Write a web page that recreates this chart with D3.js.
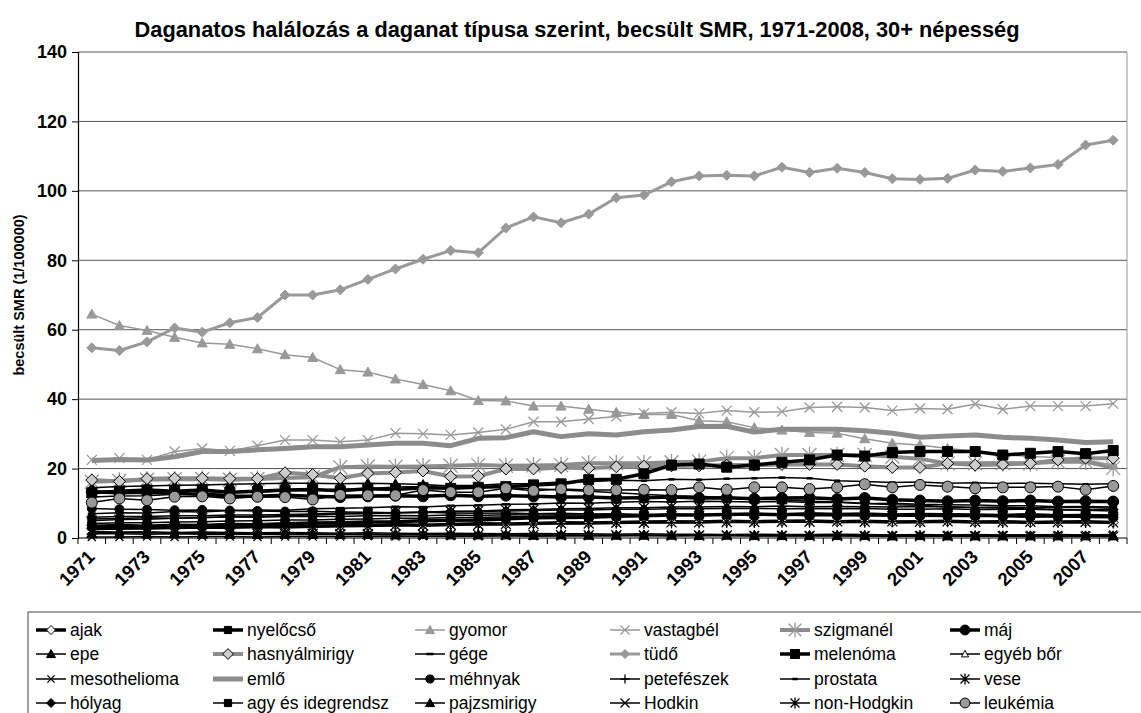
<!DOCTYPE html>
<html><head><meta charset="utf-8">
<script src="https://cdn.jsdelivr.net/npm/d3@7"></script>
<style>
body{margin:0;background:#fff}
text{font-family:"Liberation Sans",Arial,sans-serif}
</style>
</head><body>
<svg id="c" width="1141" height="713"></svg>
<script>
const years = [1971,1972,1973,1974,1975,1976,1977,1978,1979,1980,1981,1982,1983,1984,1985,1986,1987,1988,1989,1990,1991,1992,1993,1994,1995,1996,1997,1998,1999,2000,2001,2002,2003,2004,2005,2006,2007,2008];
const yTicks = [0,20,40,60,80,100,120,140];
const xLabelYears = [1971,1973,1975,1977,1979,1981,1983,1985,1987,1989,1991,1993,1995,1997,1999,2001,2003,2005,2007];

const ajak = [2.8,2.9,3.1,3.0,3.2,3.1,3.3,3.2,3.4,3.5,3.6,3.8,3.7,3.9,4.1,4.0,4.2,4.4,4.3,4.5,4.6,4.7,4.6,4.8,4.7,4.8,4.9,4.7,4.8,4.6,4.7,4.8,4.6,4.7,4.5,4.6,4.7,4.5];
const nyelocso = [3.4,3.6,3.4,3.7,3.6,3.9,3.8,4.1,4.3,4.4,4.6,4.7,5.0,5.1,5.2,5.5,5.8,5.9,6.0,6.3,6.4,6.6,6.6,6.8,6.9,6.7,7.0,6.8,6.9,6.6,6.8,6.7,6.6,6.5,6.7,6.4,6.5,6.3];
const gyomor = [64.5,61.2,59.8,57.8,56.2,55.8,54.5,52.8,52.0,48.5,47.8,45.8,44.2,42.4,39.6,39.5,38.0,38.0,37.1,36.2,35.6,35.6,33.8,33.5,31.8,31.1,30.4,30.2,28.6,27.3,26.8,25.8,25.0,24.0,23.5,23.2,22.5,21.0];
const vastagbel = [22.5,23.0,22.5,24.9,25.8,25.1,26.6,28.2,28.2,27.7,28.2,30.2,30.0,29.7,30.4,31.3,33.5,33.5,34.3,35.0,35.9,36.2,35.9,36.7,36.2,36.4,37.6,37.8,37.6,36.7,37.3,37.1,38.6,37.1,38.0,38.0,38.0,38.7];
const szigmanel = [16.2,16.5,16.8,16.9,17.0,16.8,17.0,17.3,17.5,20.4,20.6,20.5,20.6,20.8,21.0,20.8,20.9,21.0,21.5,21.5,21.5,21.8,22.0,23.0,23.0,23.9,23.9,23.9,23.9,23.4,22.8,21.5,21.5,21.6,21.5,22.0,22.0,20.2];
const maj = [13.3,13.0,13.2,12.8,12.6,12.0,12.0,12.3,12.0,11.8,12.0,12.2,12.0,12.3,12.0,12.2,12.0,11.8,11.8,11.5,11.6,11.8,11.5,11.6,11.3,11.5,11.6,11.2,11.5,11.0,10.8,10.6,10.8,10.6,10.8,10.5,10.6,10.5];
const epe = [14.5,14.8,15.0,15.2,15.3,15.5,15.6,15.8,15.8,15.6,15.8,15.6,15.4,15.0,14.8,14.5,14.2,13.8,13.5,13.0,12.6,12.2,12.0,11.6,11.2,11.0,10.6,10.4,10.0,9.6,9.4,9.0,8.8,8.6,8.4,8.2,8.0,7.8];
const hasnyalmirigy = [16.7,16.3,17.1,17.2,17.2,17.1,17.1,18.8,18.3,17.2,18.6,18.9,19.3,17.7,17.8,19.9,19.9,20.3,20.1,20.5,20.7,20.8,20.8,21.0,21.0,21.2,21.2,21.2,20.7,20.3,20.3,21.5,21.0,21.2,21.5,22.5,23.0,23.0];
const gege = [7.0,7.3,7.2,7.6,7.5,7.9,8.1,8.0,8.4,8.6,8.7,9.0,8.9,9.3,9.4,9.7,9.8,10.1,10.0,10.3,10.5,10.4,10.6,10.5,10.4,10.5,10.2,10.3,9.9,10.0,9.7,9.6,9.5,9.3,9.3,9.0,9.1,8.9];
const tudo = [54.8,54.0,56.5,60.5,59.3,62.0,63.5,70.0,70.0,71.5,74.5,77.5,80.3,82.8,82.2,89.3,92.5,90.8,93.3,98.0,98.8,102.6,104.3,104.5,104.3,106.8,105.3,106.5,105.3,103.5,103.3,103.6,106.0,105.6,106.6,107.6,113.2,114.6];
const melenoma = [13.0,13.5,13.8,13.5,13.8,13.2,13.5,13.8,14.0,13.6,14.2,14.0,14.5,14.3,14.6,14.8,15.3,15.6,16.8,16.9,18.5,21.0,21.3,20.4,21.0,21.8,22.5,23.9,23.6,24.6,24.9,24.9,24.9,23.9,24.4,24.9,24.3,25.2];
const egyebBor = [1.8,1.7,1.8,1.6,1.7,1.6,1.5,1.6,1.5,1.4,1.5,1.4,1.3,1.4,1.3,1.2,1.3,1.2,1.2,1.1,1.2,1.1,1.1,1.0,1.1,1.0,1.0,1.1,1.0,0.9,1.0,0.9,1.0,0.9,0.9,1.0,0.9,0.9];
const mesothelioma = [0.3,0.3,0.4,0.3,0.4,0.4,0.3,0.4,0.4,0.4,0.5,0.4,0.5,0.5,0.5,0.6,0.5,0.6,0.6,0.6,0.7,0.6,0.7,0.7,0.7,0.8,0.7,0.8,0.8,0.8,0.8,0.9,0.8,0.9,0.9,0.9,0.9,1.0];
const emlo = [22.3,22.6,22.5,23.4,24.9,24.9,25.4,25.8,26.3,26.3,26.8,27.3,27.3,26.6,28.7,28.9,30.6,29.2,30.0,29.7,30.6,31.1,32.1,32.2,30.5,31.3,31.3,31.3,30.9,30.2,29.0,29.4,29.7,29.0,28.7,28.2,27.5,27.7];
const mehnyak = [8.5,8.3,8.2,8.0,8.1,7.9,7.8,7.6,7.7,7.5,7.4,7.3,7.4,7.2,7.1,7.2,7.0,7.1,6.9,7.0,6.8,6.9,6.7,6.8,6.6,6.7,6.5,6.6,6.4,6.5,6.3,6.2,6.3,6.1,6.0,6.1,5.9,5.8];
const petefeszek = [5.5,5.6,5.8,5.7,5.9,6.1,6.0,6.2,6.3,6.2,6.4,6.5,6.4,6.6,6.5,6.7,6.6,6.7,6.6,6.8,6.6,6.7,6.5,6.6,6.5,6.6,6.4,6.5,6.4,6.4,6.3,6.4,6.3,6.3,6.2,6.3,6.2,6.2];
const prostata = [11.8,12.1,12.2,12.6,12.8,13.1,13.2,13.6,13.7,14.1,14.2,14.7,14.8,15.1,15.2,15.6,15.7,16.1,16.2,16.6,16.5,16.9,16.8,17.1,17.2,17.4,17.2,16.5,16.3,16.0,16.1,15.8,15.9,15.7,15.8,15.6,15.5,15.6];
const vese = [5.0,5.3,5.4,5.7,5.8,6.1,6.2,6.5,6.6,6.9,7.0,7.3,7.4,7.7,7.8,8.1,8.2,8.4,8.5,8.7,8.7,8.9,8.9,9.1,9.0,9.2,9.0,9.1,9.0,8.9,9.1,8.9,8.8,8.9,8.7,8.8,8.8,8.6];
const holyag = [6.0,6.2,6.2,6.4,6.4,6.6,6.6,6.8,6.9,7.1,7.1,7.3,7.4,7.6,7.6,7.8,7.9,8.1,8.1,8.3,8.3,8.4,8.4,8.5,8.5,8.4,8.5,8.4,8.5,8.3,8.3,8.4,8.2,8.2,8.3,8.1,8.1,8.2];
const agy = [4.2,4.4,4.4,4.6,4.7,4.9,5.0,5.2,5.2,5.4,5.5,5.7,5.7,5.9,5.9,6.1,6.1,6.3,6.3,6.4,6.5,6.6,6.6,6.7,6.7,6.8,6.8,6.7,6.8,6.6,6.8,6.7,6.6,6.7,6.5,6.6,6.5,6.6];
const pajzsmirigy = [1.2,1.2,1.1,1.2,1.1,1.1,1.0,1.1,1.0,1.0,1.0,0.9,1.0,0.9,0.9,0.9,0.8,0.9,0.8,0.8,0.8,0.8,0.7,0.8,0.7,0.7,0.7,0.7,0.7,0.6,0.7,0.6,0.6,0.6,0.6,0.6,0.6,0.6];
const hodkin = [1.6,1.5,1.5,1.4,1.4,1.3,1.3,1.2,1.2,1.1,1.1,1.0,1.0,1.0,0.9,0.9,0.9,0.8,0.8,0.8,0.7,0.7,0.7,0.7,0.6,0.6,0.6,0.6,0.5,0.5,0.5,0.5,0.5,0.5,0.4,0.4,0.4,0.4];
const nonHodgkin = [2.4,2.6,2.6,2.8,2.8,3.0,3.0,3.2,3.2,3.4,3.4,3.6,3.6,3.8,3.8,4.0,4.0,4.2,4.2,4.4,4.4,4.5,4.5,4.6,4.6,4.7,4.7,4.8,4.7,4.8,4.7,4.8,4.7,4.6,4.7,4.6,4.6,4.5];
const leukemia = [10.2,11.4,10.9,11.9,12.0,11.4,11.9,11.8,11.1,12.4,12.3,12.3,13.8,13.2,13.2,14.3,13.6,14.1,13.8,13.8,13.9,13.8,14.6,13.9,14.6,14.6,14.1,14.6,15.5,14.6,15.3,14.8,14.3,14.6,14.6,14.8,13.9,15.0];

const seriesNames = ["ajak","nyelőcső","gyomor","vastagbél","szigmanél","máj","epe","hasnyálmirigy","gége","tüdő","melenóma","egyéb bőr","mesothelioma","emlő","méhnyak","petefészek","prostata","vese","hólyag","agy és idegrendsz","pajzsmirigy","Hodkin","non-Hodgkin","leukémia"];
const seriesValues = [ajak,nyelocso,gyomor,vastagbel,szigmanel,maj,epe,hasnyalmirigy,gege,tudo,melenoma,egyebBor,mesothelioma,emlo,mehnyak,petefeszek,prostata,vese,holyag,agy,pajzsmirigy,hodkin,nonHodgkin,leukemia];

const G1 = "#999999", G2 = "#8c8c8c";
const styles = [
  {c:"#000",w:3.5,m:"diamond",f:"#fff",s:"#000",r:5},
  {c:"#000",w:3.5,m:"square",f:"#000",s:"#000",r:4},
  {c:G1,w:1.5,m:"triangle",f:G1,s:G1,r:5},
  {c:G1,w:1.5,m:"x",f:"none",s:G1,r:5},
  {c:G2,w:4,m:"asterisk",f:"none",s:G1,r:7},
  {c:"#000",w:3.5,m:"circle",f:"#000",s:"#000",r:5.5},
  {c:"#000",w:1.5,m:"triangle",f:"#000",s:"#000",r:5},
  {c:G2,w:4,m:"diamond",f:"#ccc",s:"#000",r:6},
  {c:"#000",w:1.5,m:"dash",f:"none",s:"#000",r:4},
  {c:G1,w:3,m:"diamond",f:G1,s:G1,r:5},
  {c:"#000",w:3.5,m:"square",f:"#000",s:"#000",r:5},
  {c:"#000",w:1.5,m:"triangle",f:"#fff",s:"#000",r:4},
  {c:"#000",w:1.5,m:"x",f:"none",s:"#000",r:4},
  {c:G2,w:5,m:"none",f:"none",s:"none",r:0},
  {c:"#000",w:1.5,m:"circle",f:"#000",s:"#000",r:4.5},
  {c:"#000",w:1.5,m:"plus",f:"none",s:"#000",r:5},
  {c:"#000",w:1.5,m:"dash",f:"none",s:"#000",r:3},
  {c:"#000",w:1.5,m:"asterisk",f:"none",s:"#000",r:5},
  {c:"#000",w:1.5,m:"diamond",f:"#000",s:"#000",r:5},
  {c:"#000",w:1.5,m:"square",f:"#000",s:"#000",r:4},
  {c:"#000",w:1.5,m:"triangle",f:"#000",s:"#000",r:5},
  {c:"#000",w:1.5,m:"x",f:"none",s:"#000",r:5},
  {c:"#000",w:1.5,m:"asterisk",f:"none",s:"#000",r:5},
  {c:"#000",w:1.5,m:"circle",f:"#999",s:"#000",r:5.5}
];

function markerPath(m, r){
  switch(m){
    case "diamond": return `M0,${-r}L${r},0L0,${r}L${-r},0Z`;
    case "square": return `M${-r},${-r}H${r}V${r}H${-r}Z`;
    case "triangle": return `M0,${-r}L${r},${r*0.8}L${-r},${r*0.8}Z`;
    case "circle": return `M${-r},0A${r},${r} 0 1,0 ${r},0A${r},${r} 0 1,0 ${-r},0Z`;
    case "x": return `M${-r},${-r}L${r},${r}M${-r},${r}L${r},${-r}`;
    case "plus": return `M${-r},0H${r}M0,${-r}V${r}`;
    case "asterisk": return `M${-r},${-r}L${r},${r}M${-r},${r}L${r},${-r}M0,${-r*1.2}V${r*1.2}`;
    case "dash": return `M${-r},0H${r}`;
    default: return "";
  }
}

const svg = d3.select("#c");
const L=78, R=1127, T=52, B=538;
const x = d3.scaleBand().domain(years).range([L,R]);
const cx = d => x(d) + x.bandwidth()/2;
const y = d3.scaleLinear().domain([0,140]).range([B,T]);

svg.append("g").selectAll("line").data(yTicks.filter(t=>t>0)).join("line")
  .attr("x1",L).attr("x2",R).attr("y1",d=>y(d)).attr("y2",d=>y(d))
  .attr("stroke","#555").attr("stroke-width",1);
svg.append("line").attr("x1",R).attr("x2",R).attr("y1",T).attr("y2",B).attr("stroke","#999").attr("stroke-width",1);

const ya = svg.append("g").attr("transform",`translate(${L},0)`)
  .call(d3.axisLeft(y).tickValues(yTicks).tickSize(6).tickPadding(5));
ya.select(".domain").attr("stroke","#000").attr("stroke-width",1.2);
ya.selectAll(".tick line").attr("stroke","#000");
ya.selectAll("text").attr("font-size",18).attr("font-weight","bold").attr("font-family","Liberation Sans, Arial, sans-serif").attr("fill","#000");

const xa = svg.append("g").attr("transform",`translate(0,${B})`)
  .call(d3.axisBottom(x).tickValues(xLabelYears).tickSize(0).tickPadding(0));
xa.select(".domain").remove();
xa.selectAll("text").attr("font-size",18.5).attr("font-weight","bold")
  .attr("font-family","Liberation Sans, Arial, sans-serif").attr("fill","#000")
  .attr("text-anchor","end").attr("dy",null)
  .attr("transform","translate(4,20) rotate(-45)");
svg.append("line").attr("x1",L).attr("x2",R).attr("y1",B).attr("y2",B).attr("stroke","#000").attr("stroke-width",1.2);
svg.append("g").selectAll("line").data(years).join("line")
  .attr("x1",d=>x(d)).attr("x2",d=>x(d)).attr("y1",B).attr("y2",B+6).attr("stroke","#000");
svg.append("line").attr("x1",R).attr("x2",R).attr("y1",B).attr("y2",B+6).attr("stroke","#000");

const line = d3.line().x((d,i)=>cx(years[i])).y(d=>y(d));
const gS = svg.append("g");
seriesValues.forEach((vals,k)=>{
  const st = styles[k];
  const g = gS.append("g");
  g.append("path").attr("d",line(vals)).attr("fill","none").attr("stroke",st.c)
    .attr("stroke-width",st.w).attr("stroke-linejoin","round");
  if(st.m!=="none"){
    const open = ["x","plus","asterisk","dash"].includes(st.m);
    g.selectAll("path.m").data(vals).join("path").attr("class","m")
      .attr("transform",(d,i)=>`translate(${cx(years[i])},${y(d)})`)
      .attr("d",markerPath(st.m,st.r))
      .attr("fill",open?"none":st.f).attr("stroke",st.s)
      .attr("stroke-width",open?(st.m==="dash"?2.5:1.3):1);
  }
});

svg.append("text").attr("x",577).attr("y",37).attr("text-anchor","middle")
  .attr("font-size",21.8).attr("font-weight","bold")
  .text("Daganatos halálozás a daganat típusa szerint, becsült SMR, 1971-2008, 30+ népesség");
svg.append("text").attr("transform",`translate(24,${(T+B)/2}) rotate(-90)`).attr("text-anchor","middle")
  .attr("font-size",14.5).attr("font-weight","bold").text("becsült SMR (1/100000)");

const lg = svg.append("g");
lg.append("rect").attr("x",28).attr("y",612).attr("width",1125).attr("height",130)
  .attr("fill","#fff").attr("stroke","#444").attr("stroke-width",1);
const colX = [36,213,415,610,780,950];
const rowY = [630,654,679,703];
seriesNames.forEach((name,k)=>{
  const st = styles[k];
  const c = k%6, r = Math.floor(k/6);
  const x0 = colX[c], yy = rowY[r];
  const g = lg.append("g");
  g.append("line").attr("x1",x0).attr("x2",x0+30).attr("y1",yy).attr("y2",yy)
    .attr("stroke",st.c).attr("stroke-width",st.w);
  if(st.m!=="none"){
    const open = ["x","plus","asterisk","dash"].includes(st.m);
    g.append("path").attr("transform",`translate(${x0+15},${yy})`)
      .attr("d",markerPath(st.m,st.r*0.9))
      .attr("fill",open?"none":st.f).attr("stroke",st.s)
      .attr("stroke-width",open?(st.m==="dash"?2.5:1.3):1);
  }
  g.append("text").attr("x",x0+34).attr("y",yy+6).attr("font-size",17.5).text(name);
});
</script>
</body></html>
